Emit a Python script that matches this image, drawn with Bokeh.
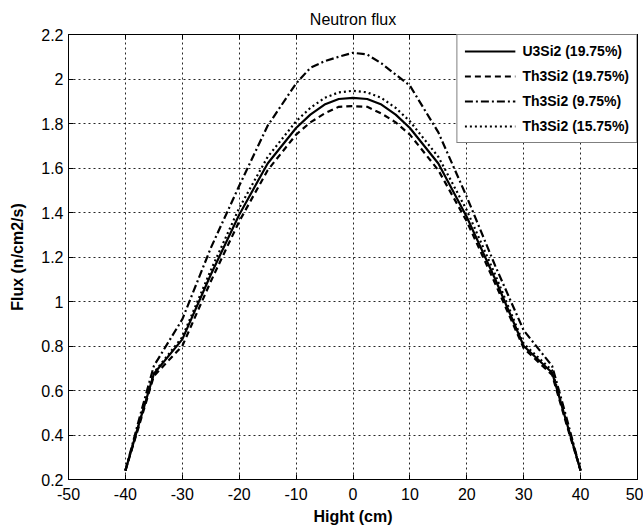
from bokeh.plotting import figure
from bokeh.models import Range1d, FixedTicker, LinearAxis, CustomJSTickFormatter, Legend, LegendItem
from bokeh.embed import file_html
from bokeh.resources import INLINE

hight = [-40, -37.5, -35, -30, -25, -20, -15, -10, -7.5, -5, -2.5, 0, 2.5, 5, 7.5, 10, 15, 20, 25, 30, 35, 37.5, 40]
u3si2_1975 = [0.24, 0.46, 0.675, 0.83, 1.12, 1.39, 1.62, 1.78, 1.84, 1.885, 1.91, 1.915, 1.91, 1.885, 1.84, 1.78, 1.62, 1.38, 1.10, 0.80, 0.68, 0.46, 0.24]
th3si2_1975 = [0.24, 0.45, 0.665, 0.80, 1.09, 1.36, 1.59, 1.75, 1.805, 1.845, 1.875, 1.878, 1.875, 1.845, 1.805, 1.75, 1.59, 1.36, 1.08, 0.79, 0.67, 0.45, 0.24]
th3si2_975 = [0.24, 0.48, 0.71, 0.92, 1.24, 1.52, 1.79, 1.98, 2.05, 2.08, 2.10, 2.118, 2.11, 2.07, 2.02, 1.97, 1.76, 1.47, 1.16, 0.87, 0.71, 0.48, 0.24]
th3si2_1575 = [0.24, 0.46, 0.68, 0.84, 1.14, 1.42, 1.65, 1.81, 1.87, 1.915, 1.94, 1.947, 1.94, 1.915, 1.87, 1.81, 1.65, 1.41, 1.12, 0.81, 0.69, 0.46, 0.24]

series_labels = ["U3Si2 (19.75%)", "Th3Si2 (19.75%)", "Th3Si2 (9.75%)", "Th3Si2 (15.75%)"]
x_ticks = [-50, -40, -30, -20, -10, 0, 10, 20, 30, 40, 50]
y_ticks = [0.2, 0.4, 0.6, 0.8, 1.0, 1.2, 1.4, 1.6, 1.8, 2.0, 2.2]

FONT = "Liberation Sans"

p = figure(width=643, height=527, output_backend="svg", toolbar_location=None,
           x_range=Range1d(-50, 50), y_range=Range1d(0.2, 2.2),
           min_border_left=68, min_border_right=6, min_border_top=34, min_border_bottom=48,
           title="Neutron flux")
p.title.align = "center"
p.title.text_font = FONT
p.title.text_font_size = "16px"
p.title.text_font_style = "normal"
p.title.text_color = "black"
p.title.standoff = 13

p.outline_line_color = "black"
p.outline_line_width = 1
p.background_fill_color = "white"
p.border_fill_color = "white"

fmt = CustomJSTickFormatter(code="return (Math.round(tick*10)/10).toString();")

for ax in (p.xaxis[0], p.yaxis[0]):
    ax.formatter = fmt
    ax.major_label_text_font = FONT
    ax.major_label_text_font_size = "16px"
    ax.major_label_text_color = "black"
    ax.axis_label_text_font = FONT
    ax.axis_label_text_font_size = "16px"
    ax.axis_label_text_font_style = "bold"
    ax.axis_label_text_color = "black"
    ax.major_tick_in = 5
    ax.major_tick_out = 0
    ax.minor_tick_in = 0
    ax.minor_tick_out = 0
    ax.axis_line_color = "black"
    ax.major_tick_line_color = "black"

p.xaxis[0].ticker = FixedTicker(ticks=x_ticks)
p.yaxis[0].ticker = FixedTicker(ticks=y_ticks)
p.xaxis[0].axis_label = "Hight (cm)"
p.yaxis[0].axis_label = "Flux (n/cm2/s)"
p.xaxis[0].major_label_standoff = 8
p.yaxis[0].major_label_standoff = 5
p.xaxis[0].axis_label_standoff = 5
p.yaxis[0].axis_label_standoff = 12

blank = CustomJSTickFormatter(code="return '';")
for loc, ticks in (("above", x_ticks), ("right", y_ticks)):
    a = LinearAxis(ticker=FixedTicker(ticks=ticks), formatter=blank,
                   major_label_standoff=0, major_tick_in=5, major_tick_out=0,
                   minor_tick_in=0, minor_tick_out=0, axis_line_color="black",
                   major_tick_line_color="black")
    p.add_layout(a, loc)

p.xgrid.ticker = FixedTicker(ticks=x_ticks)
p.ygrid.ticker = FixedTicker(ticks=y_ticks)
for g in (p.xgrid[0], p.ygrid[0]):
    g.grid_line_color = "black"
    g.grid_line_alpha = 0.85
    g.grid_line_dash = "2 3"
    g.grid_line_width = 1

r1 = p.line(hight, u3si2_1975, line_color="black", line_width=2.2)
r2 = p.line(hight, th3si2_1975, line_color="black", line_width=2.2, line_dash="6 4")
r3 = p.line(hight, th3si2_975, line_color="black", line_width=2.2, line_dash="8 3 2 3")
r4 = p.line(hight, th3si2_1575, line_color="black", line_width=2.2, line_dash="2 3")

legend = Legend(items=[LegendItem(label=l, renderers=[r]) for l, r in zip(series_labels, [r1, r2, r3, r4])],
                location="top_right")
legend.margin = 0
legend.padding = 7
legend.spacing = 7
legend.glyph_width = 51
legend.glyph_height = 18
legend.label_height = 18
legend.label_standoff = 7
legend.label_text_font = FONT
legend.label_text_font_size = "14px"
legend.label_text_font_style = "bold"
legend.label_text_color = "black"
legend.border_line_color = "black"
legend.border_line_width = 1
legend.background_fill_color = "white"
legend.background_fill_alpha = 1
p.add_layout(legend)

open("out.html", "w").write(file_html(p, INLINE))
